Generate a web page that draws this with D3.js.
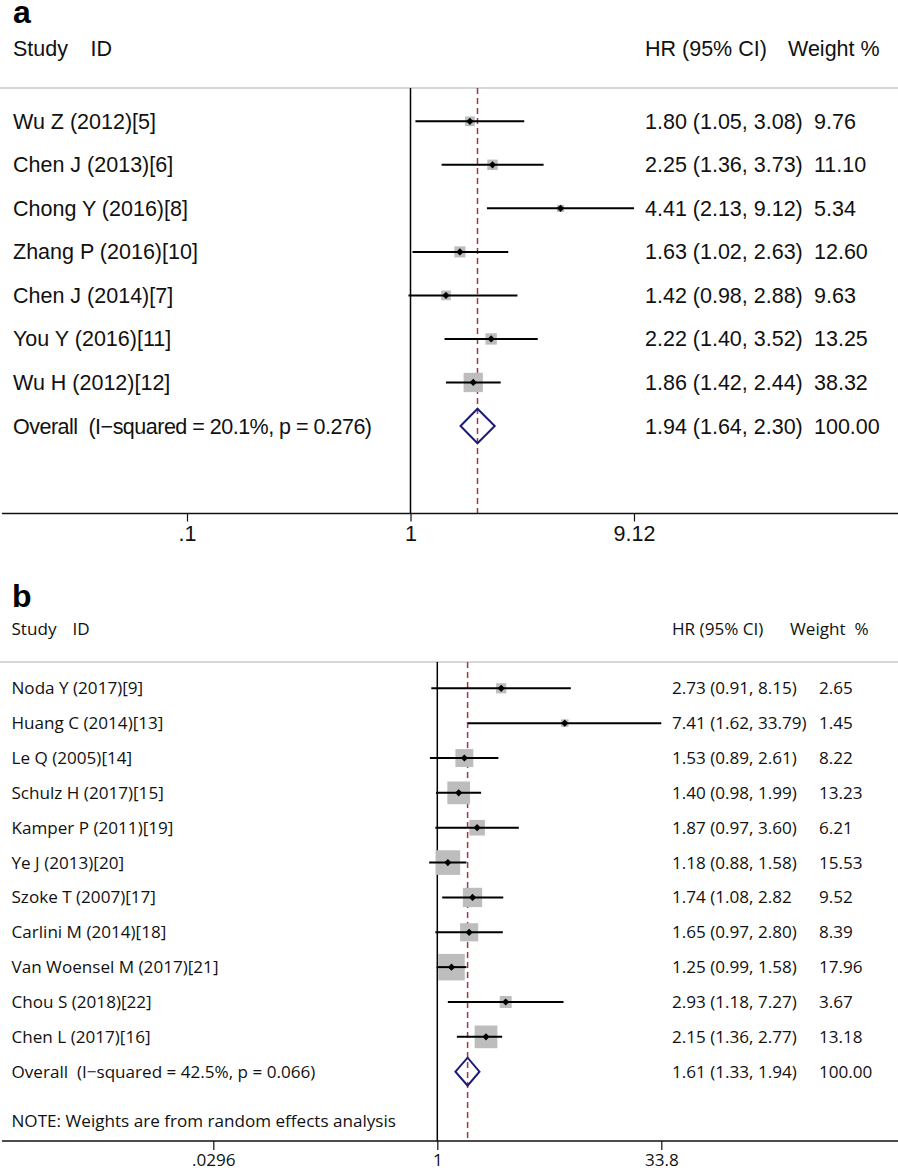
<!DOCTYPE html>
<html><head><meta charset="utf-8">
<script src="https://cdn.jsdelivr.net/npm/d3@7"></script>
<style>
html,body{margin:0;padding:0;background:#fff;}
svg text{white-space:pre;}
</style></head>
<body>
<svg id="chart" width="898" height="1168"></svg>
<script>
// ---------- Panel a data ----------
const studiesA = ["Wu Z (2012)[5]","Chen J (2013)[6]","Chong Y (2016)[8]","Zhang P (2016)[10]","Chen J (2014)[7]","You Y (2016)[11]","Wu H (2012)[12]"];
const hrA    = [1.80, 2.25, 4.41, 1.63, 1.42, 2.22, 1.86];
const lowA   = [1.05, 1.36, 2.13, 1.02, 0.98, 1.40, 1.42];
const highA  = [3.08, 3.73, 9.12, 2.63, 2.88, 3.52, 2.44];
const weightA= [9.76, 11.10, 5.34, 12.60, 9.63, 13.25, 38.32];
const overallA = {label:"Overall  (I\u2212squared = 20.1%, p = 0.276)", hr:1.94, low:1.64, high:2.30, weight:"100.00"};
const tickValsA = [1/9.12, 1, 9.12];
const tickLabelsA = [".1", "1", "9.12"];

// ---------- Panel b data ----------
const studiesB = ["Noda Y (2017)[9]","Huang C (2014)[13]","Le Q (2005)[14]","Schulz H (2017)[15]","Kamper P (2011)[19]","Ye J (2013)[20]","Szoke T (2007)[17]","Carlini M (2014)[18]","Van Woensel M (2017)[21]","Chou S (2018)[22]","Chen L (2017)[16]"];
const hrB    = [2.73, 7.41, 1.53, 1.40, 1.87, 1.18, 1.74, 1.65, 1.25, 2.93, 2.15];
const lowB   = [0.91, 1.62, 0.89, 0.98, 0.97, 0.88, 1.08, 0.97, 0.99, 1.18, 1.36];
const highB  = [8.15, 33.79, 2.61, 1.99, 3.60, 1.58, 2.82, 2.80, 1.58, 7.27, 2.77];
const weightB= [2.65, 1.45, 8.22, 13.23, 6.21, 15.53, 9.52, 8.39, 17.96, 3.67, 13.18];
const ciTextB = ["2.73 (0.91, 8.15)","7.41 (1.62, 33.79)","1.53 (0.89, 2.61)","1.40 (0.98, 1.99)","1.87 (0.97, 3.60)","1.18 (0.88, 1.58)","1.74 (1.08, 2.82","1.65 (0.97, 2.80)","1.25 (0.99, 1.58)","2.93 (1.18, 7.27)","2.15 (1.36, 2.77)"];
const weightTextB = ["2.65","1.45","8.22","13.23","6.21","15.53","9.52","8.39","17.96","3.67","13.18"];
const overallB = {label:"Overall  (I\u2212squared = 42.5%, p = 0.066)", hr:1.61, low:1.33, high:1.94, weight:"100.00"};
const tickValsB = [1/33.8, 1, 33.8];
const tickLabelsB = [".0296", "1", "33.8"];

const fmt = d3.format(".2f");
const svg = d3.select("#chart");
const W = 898;

function panel(cfg) {
  const g = svg.append("g");
  const n = cfg.studies.length;
  const x = d3.scaleLog().domain([cfg.ticks[0], cfg.ticks[2]]).range(cfg.xRange);
  const y = d3.scalePoint().domain(d3.range(n + 1)).range(cfg.yRange);
  const size = d3.scaleSqrt().domain([0, d3.max(cfg.weight)]).range([0, cfg.maxBox]);
  const F = cfg.font;

  // panel letter
  g.append("text").attr("x", cfg.letterX).attr("y", cfg.letterY)
    .attr("font-family", "Liberation Sans, Arial, sans-serif").attr("font-weight", "bold")
    .attr("font-size", 32).attr("fill", "#000").text(cfg.letter);

  // headers
  const hdr = (txt, xx) => g.append("text").attr("x", xx).attr("y", cfg.headerY)
    .attr("font-family", F).attr("font-size", cfg.fs).attr("fill", "#111").text(txt);
  hdr("Study", cfg.labelX); hdr("ID", cfg.idX);
  hdr("HR (95% CI)", cfg.ciX); hdr(cfg.weightHeader, cfg.wHdrX);

  // separator
  g.append("line").attr("x1", 0).attr("x2", W).attr("y1", cfg.sepY).attr("y2", cfg.sepY)
    .attr("stroke", "#c8c8c8").attr("stroke-width", 1.3);

  // reference line at 1
  g.append("line").attr("x1", x(1)).attr("x2", x(1)).attr("y1", cfg.sepY).attr("y2", cfg.axisY)
    .attr("stroke", "#000").attr("stroke-width", 1.5);
  // overall dashed line
  g.append("line").attr("x1", x(cfg.overall.hr)).attr("x2", x(cfg.overall.hr)).attr("y1", cfg.sepY).attr("y2", cfg.axisY)
    .attr("stroke", "#a3363f").attr("stroke-width", 1.5).attr("stroke-dasharray", "6,4");

  const idx = d3.range(n);
  // boxes
  g.selectAll("rect.box").data(idx).join("rect").attr("class", "box")
    .attr("x", i => x(cfg.hr[i]) - size(cfg.weight[i]) / 2)
    .attr("y", i => y(i) - size(cfg.weight[i]) / 2)
    .attr("width", i => size(cfg.weight[i]))
    .attr("height", i => size(cfg.weight[i]))
    .attr("fill", "#bdbdbd");
  // CI lines
  g.selectAll("line.ci").data(idx).join("line").attr("class", "ci")
    .attr("x1", i => x(cfg.low[i])).attr("x2", i => x(cfg.high[i]))
    .attr("y1", i => y(i)).attr("y2", i => y(i))
    .attr("stroke", "#000").attr("stroke-width", 2);
  // point markers
  g.selectAll("path.pt").data(idx).join("path").attr("class", "pt")
    .attr("d", i => { const cx = x(cfg.hr[i]), cy = y(i), r = 3.6;
      return `M${cx},${cy - r}L${cx + r},${cy}L${cx},${cy + r}L${cx - r},${cy}Z`; })
    .attr("fill", "#000");

  // overall diamond
  const o = cfg.overall, oy = y(n), hh = cfg.diamondH;
  g.append("path")
    .attr("d", `M${x(o.low)},${oy}L${x(o.hr)},${oy - hh}L${x(o.high)},${oy}L${x(o.hr)},${oy + hh}Z`)
    .attr("fill", "none").attr("stroke", "#1c1c78").attr("stroke-width", 2);

  // labels
  const rowText = (xx, yy, txt) => g.append("text").attr("x", xx).attr("y", yy + cfg.baseOff)
    .attr("font-family", F).attr("font-size", cfg.fs).attr("fill", "#111").text(txt);
  idx.forEach(i => {
    rowText(cfg.labelX, y(i), cfg.studies[i]);
    rowText(cfg.ciX, y(i), cfg.ciText ? cfg.ciText[i] : `${fmt(cfg.hr[i])} (${fmt(cfg.low[i])}, ${fmt(cfg.high[i])})`);
    rowText(cfg.wX, y(i), cfg.weightText ? cfg.weightText[i] : fmt(cfg.weight[i]));
  });
  const ol = rowText(cfg.labelX, oy, o.label);
  if (cfg.overallLen) ol.attr("textLength", cfg.overallLen).attr("lengthAdjust", "spacing");
  rowText(cfg.ciX, oy, `${fmt(o.hr)} (${fmt(o.low)}, ${fmt(o.high)})`);
  rowText(cfg.wX, oy, o.weight);
  if (cfg.note) rowText(cfg.labelX, cfg.noteY - cfg.baseOff, cfg.note);

  // axis
  g.append("line").attr("x1", 2).attr("x2", W).attr("y1", cfg.axisY).attr("y2", cfg.axisY)
    .attr("stroke", "#111").attr("stroke-width", 1.4);
  const axis = d3.axisBottom(x).tickValues(cfg.ticks)
    .tickFormat((d, i) => cfg.tickLabels[i]).tickSize(cfg.tickLen).tickSizeOuter(0);
  const ag = g.append("g").attr("transform", `translate(0,${cfg.axisY})`).call(axis);
  ag.select(".domain").remove();
  ag.selectAll(".tick line").attr("stroke", "#111").attr("stroke-width", 1.2);
  ag.selectAll(".tick text").attr("y", cfg.tickTextOff).attr("dy", 0)
    .attr("font-family", F).attr("font-size", cfg.fs).attr("fill", "#111");
}

panel({
  letter: "a", letterX: 13, letterY: 23,
  studies: studiesA, hr: hrA, low: lowA, high: highA, weight: weightA, overall: overallA,
  ticks: tickValsA, tickLabels: tickLabelsA, weightHeader: "Weight %",
  xRange: [187, 634], yRange: [121.3, 426], maxBox: 19.3, diamondH: 17.3,
  font: "Liberation Sans, Arial, sans-serif", fs: 21.5, baseOff: 7.5, overallLen: 359,
  headerY: 56, labelX: 13, idX: 90.5, ciX: 645, wHdrX: 788, wX: 814,
  sepY: 88, axisY: 513.5, tickLen: 8, tickTextOff: 27.5
});

panel({
  letter: "b", letterX: 12, letterY: 607,
  studies: studiesB, hr: hrB, low: lowB, high: highB, weight: weightB, overall: overallB,
  ciText: ciTextB, weightText: weightTextB, weightHeader: "Weight  %",
  ticks: tickValsB, tickLabels: tickLabelsB,
  xRange: [213.3, 661.3], yRange: [688.3, 1071.7], maxBox: 26.5, diamondH: 14,
  font: "Open Sans, sans-serif", fs: 17.1, baseOff: 6,
  headerY: 635, labelX: 11.5, idX: 72.5, ciX: 672, wHdrX: 790, wX: 819,
  sepY: 662, axisY: 1141, tickLen: 9, tickTextOff: 24.5,
  note: "NOTE: Weights are from random effects analysis", noteY: 1127
});
</script>
</body></html>
